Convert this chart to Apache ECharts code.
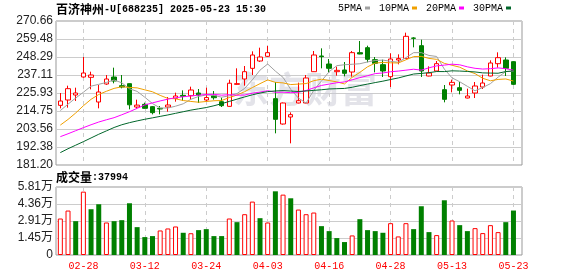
<!DOCTYPE html>
<html>
<head>
<meta charset="utf-8">
<title>百济神州-U K线</title>
<script src="https://cdn.jsdelivr.net/npm/echarts@6/dist/echarts.min.js"></script>
<style>
    html, body { margin: 0; padding: 0; background: #fff; }
    #kline { width: 578px; height: 276px; }
</style>
</head>
<body>
<div id="kline"></div>
<script>
// 行情数据
var stockName = '百济神州';
var stockCode = '-U[688235]';
var quoteTime = '2025-05-23 15:30';

var dates = ['02-25','02-26','02-27','02-28','03-03','03-04','03-05','03-06','03-07','03-10',
             '03-11','03-12','03-13','03-14','03-17','03-18','03-19','03-20','03-21','03-24',
             '03-25','03-26','03-27','03-28','03-31','04-01','04-02','04-03','04-07','04-08',
             '04-09','04-10','04-11','04-14','04-15','04-16','04-17','04-18','04-21','04-22',
             '04-23','04-24','04-25','04-28','04-29','04-30','05-06','05-07','05-08','05-09',
             '05-12','05-13','05-14','05-15','05-16','05-19','05-20','05-21','05-22','05-23'];
var tickDates = ['02-28','03-12','03-24','04-03','04-16','04-28','05-13','05-23'];

var openPrice = [218.26,221.58,224.68,235.87,235.66,220.33,231.52,235.87,230.48,231.73,
                 217.23,218.89,217.44,216.40,217.23,222.61,224.48,224.27,225.93,221.58,
                 224.20,220.54,217.64,231.31,234.62,241.25,245.81,248.71,222.41,206.67,
                 211.02,219.72,219.72,239.18,248.92,243.94,239.18,240.22,238.97,250.99,
                 254.09,246.64,243.53,236.08,246.43,247.46,260.10,255.33,236.49,239.60,
                 228.00,230.90,229.24,222.82,225.93,229.65,236.49,244.15,246.43,245.40];
var closePrice = [220.96,228.62,225.93,238.35,237.11,226.55,234.62,233.38,229.65,218.60,
                  218.40,216.40,213.71,215.99,218.47,224.06,223.85,227.79,224.68,223.10,
                  223.00,218.06,232.00,231.73,239.18,249.54,248.29,250.99,209.57,219.72,
                  212.47,221.16,235.25,249.54,248.50,241.25,240.01,238.15,250.99,250.16,
                  246.84,244.36,239.60,247.05,247.30,261.13,259.90,239.60,238.35,244.15,
                  221.99,232.55,227.58,224.06,230.28,232.14,244.57,247.88,241.25,231.31];
var lowPrice = [216.40,216.82,220.96,235.50,228.20,216.40,231.00,231.93,228.83,215.78,
                215.99,216.20,212.67,212.67,214.33,220.54,220.96,221.79,219.72,220.54,
                221.79,217.23,217.40,231.00,230.48,237.11,245.19,248.29,200.87,206.30,
                194.66,219.50,219.50,239.00,241.25,238.77,236.70,236.28,236.08,250.00,
                244.98,238.77,235.87,229.65,243.74,247.20,254.30,235.87,236.30,239.40,
                220.13,226.34,225.10,222.60,222.82,228.41,236.30,241.67,236.49,230.90];
var highPrice = [225.93,230.48,229.24,248.29,239.18,230.90,237.11,241.67,237.11,231.90,
                 221.79,219.92,217.85,217.85,223.44,226.14,227.58,229.86,228.41,229.24,
                 227.17,223.03,234.21,241.25,242.70,251.81,254.09,255.13,232.76,220.00,
                 213.92,232.35,237.11,252.02,253.68,247.05,242.29,245.19,252.02,258.23,
                 255.33,248.29,246.64,250.57,249.95,263.41,260.60,259.06,242.49,245.81,
                 230.90,234.21,232.76,228.62,232.76,237.32,246.22,251.19,248.09,245.60];

var volume = [31174,37976,28907,54129,39109,43360,27773,28907,29757,44210,
              23806,15304,16154,20972,22672,24372,18988,18600,21255,22105,
              16154,16154,31174,28057,34858,45627,31457,27773,54413,51579,
              48461,38826,34858,36275,24656,20405,14453,11053,16721,30607,
              21255,20405,18988,27206,15870,27206,22105,41660,19555,17004,
              46761,29474,25506,20405,22955,18704,25506,19555,28057,37994];

var ma5 = [215.0,219.0,222.8,226.4,230.19,231.31,232.51,234.00,232.26,228.56,
           226.93,223.29,219.35,216.62,216.59,217.73,219.22,222.03,223.77,224.70,
           224.48,223.33,224.17,225.58,228.79,234.10,240.15,243.95,239.51,235.62,
           228.21,222.78,219.63,227.63,233.38,239.14,242.91,243.49,243.78,244.11,
           245.23,246.10,246.39,245.60,245.03,247.89,251.00,251.00,249.26,248.63,
           240.80,235.33,232.92,230.07,227.29,229.32,231.73,235.79,239.22,239.43];
var ma10 = [206.0,209.5,213.5,218.0,222.0,225.0,227.0,228.8,229.8,229.38,
            229.12,227.90,226.68,224.44,222.58,222.33,221.25,220.69,220.20,220.65,
            221.11,221.27,223.10,224.67,226.75,229.29,231.74,234.06,232.55,232.21,
            231.16,231.47,231.79,233.57,234.50,233.67,232.85,231.56,235.70,238.75,
            242.19,244.51,244.94,244.69,244.57,246.56,248.55,248.69,247.43,246.83,
            244.34,243.16,241.96,239.66,237.96,235.06,233.53,234.36,234.65,233.36];
var ma20 = [198.8,200.6,202.5,204.4,206.2,207.9,209.3,210.6,212.4,214.3,
            216.4,218.5,219.8,221.0,222.1,223.0,223.6,224.1,224.6,225.01,
            225.11,224.59,224.89,224.56,224.66,225.81,226.49,227.37,226.37,226.43,
            226.13,226.37,227.45,229.12,230.62,231.48,232.29,232.81,234.13,235.48,
            236.67,237.99,238.37,239.13,239.54,240.12,240.70,240.13,241.57,242.79,
            243.26,243.83,243.45,242.18,241.27,240.81,241.04,241.52,241.04,240.09];
var ma30 = [188.9,191.3,193.5,195.7,198.0,200.3,202.4,204.5,206.2,207.5,
            208.6,209.6,210.5,211.4,212.3,213.3,214.3,215.3,216.1,216.9,
            218.0,219.3,220.7,222.1,223.5,224.8,225.9,226.8,227.2,227.41,
            227.13,226.88,227.19,227.56,227.94,228.43,228.61,228.77,229.48,230.53,
            231.48,232.41,233.28,234.31,235.27,236.51,237.71,238.10,238.56,239.26,
            239.23,239.71,239.56,239.31,239.01,238.43,238.31,238.20,239.26,239.65];

var priceTicks = ['181.20','192.38','203.56','214.75','225.93','237.11','248.29','259.48','270.66'];
var volTicks = ['0','1.45万','2.91万','4.36万','5.81万'];
var volMax = 58100;

var MONO = '"Liberation Mono", "DejaVu Sans Mono", monospace';
var CJK = '"Noto Sans CJK SC", sans-serif';
var NUM = 'Arial, "Liberation Sans", "Noto Sans CJK SC", sans-serif';

/**
 * 渲染 K线 + 成交量
 */
function RenderKline() {
    var dom = document.getElementById('kline');
    var chart = echarts.init(dom);

    var showTick = function (idx, val) {
        return tickDates.indexOf(val) > -1;
    };

    var candles = dates.map(function (d, i) {
        return [openPrice[i], closePrice[i], lowPrice[i], highPrice[i]];
    });

    // 成交量颜色按涨跌 (收盘对比前收)
    var volData = volume.map(function (v, i) {
        var up = i === 0 || closePrice[i] >= closePrice[i - 1];
        return {
            value: v,
            itemStyle: up ? {color: '#fff', borderColor: '#f00', borderWidth: 1}
                          : {color: '#008000', borderColor: '#008000', borderWidth: 0}
        };
    });

    var maLine = function (name, data, color) {
        return {
            name: name, type: 'line', data: data,
            xAxisIndex: 1, yAxisIndex: 1,
            showSymbol: false, symbol: 'none',
            lineStyle: {width: 1, color: color},
            itemStyle: {color: color},
            emphasis: {disabled: true}
        };
    };

    var richText = {
        a: {fontFamily: CJK, fontSize: 12, color: '#000', lineHeight: 14, verticalAlign: 'middle'},
        b: {fontFamily: MONO, fontSize: 10, color: '#000', lineHeight: 14, verticalAlign: 'middle'}
    };

    var option = {
        animation: false,
        title: [{
            left: 56, top: 2, padding: 0,
            text: '{a|' + stockName + '}{b|' + stockCode + ' ' + quoteTime + '}',
            textStyle: {rich: richText}
        }, {
            left: 56, top: 170, padding: 0,
            text: '{a|成交量}{b|:' + volume[volume.length - 1] + '}',
            textStyle: {rich: richText}
        }],
        legend: {
            left: 338, top: 3, padding: 0,
            itemGap: 9, itemWidth: 5, itemHeight: 3,
            align: 'right', icon: 'rect',
            textStyle: {fontFamily: MONO, fontSize: 10, color: '#000', padding: [0, -2, 0, 0]},
            data: ['5PMA', '10PMA', '20PMA', '30PMA']
        },
        graphic: [{
            type: 'text', left: 233, top: 71, z: 1, silent: true,
            style: {text: '东方财富', fontFamily: CJK, fontSize: 36, fontWeight: 'bold', fill: 'rgba(200,200,212,0.5)'}
        }],
        grid: [
            {left: 56, top: 21, width: 466, height: 144, show: true, borderColor: '#999', borderWidth: 1},
            {left: 56.5, top: 21, width: 460.8, height: 144},
            {left: 56, top: 187, width: 466, height: 68, show: true, borderColor: '#999', borderWidth: 1},
            {left: 56.5, top: 187, width: 460.8, height: 68}
        ],
        xAxis: [
            {gridIndex: 0, type: 'value', min: 0, max: 1, show: false},
            {
                gridIndex: 1, type: 'category', data: dates, boundaryGap: true,
                axisLine: {show: false}, axisTick: {show: false}, axisLabel: {show: false},
                splitLine: {show: true, interval: showTick, alignWithLabel: true,
                            lineStyle: {color: '#ccc', type: [4, 4]}}
            },
            {gridIndex: 2, type: 'value', min: 0, max: 1, show: false},
            {
                gridIndex: 3, type: 'category', data: dates, boundaryGap: true,
                axisLine: {show: false}, axisTick: {show: false},
                axisLabel: {show: true, interval: showTick, color: '#f00', fontFamily: MONO, fontSize: 10, margin: 6},
                splitLine: {show: true, interval: showTick, alignWithLabel: true,
                            lineStyle: {color: '#ccc', type: [4, 4]}}
            }
        ],
        yAxis: [
            {
                gridIndex: 0, type: 'value', min: 0, max: priceTicks.length - 1, interval: 1,
                axisLine: {show: false}, axisTick: {show: false},
                axisLabel: {
                    margin: 3, color: '#222', fontFamily: NUM, fontSize: 12,
                    formatter: function (v) { return priceTicks[v]; }
                },
                splitLine: {lineStyle: {color: '#ccc'}}
            },
            {gridIndex: 1, type: 'value', min: Number(priceTicks[0]), max: Number(priceTicks[priceTicks.length - 1]), show: false},
            {
                gridIndex: 2, type: 'value', min: 0, max: volTicks.length - 1, interval: 1,
                axisLine: {show: false}, axisTick: {show: false},
                axisLabel: {
                    margin: 3, color: '#222', fontFamily: NUM, fontSize: 12,
                    formatter: function (v) { return volTicks[v]; }
                },
                splitLine: {lineStyle: {color: '#ccc'}}
            },
            {gridIndex: 3, type: 'value', min: 0, max: volMax, show: false}
        ],
        series: [
            {
                name: 'K', type: 'candlestick', data: candles,
                xAxisIndex: 1, yAxisIndex: 1, barWidth: 5,
                itemStyle: {color: '#fff', color0: '#008000', borderColor: '#f00', borderColor0: '#008000', borderWidth: 1}
            },
            maLine('5PMA', ma5, '#a0a0a0'),
            maLine('10PMA', ma10, '#f0a000'),
            maLine('20PMA', ma20, '#ff00ff'),
            maLine('30PMA', ma30, '#00662a'),
            {
                name: 'VOL', type: 'bar', data: volData,
                xAxisIndex: 3, yAxisIndex: 3, barWidth: 5
            }
        ]
    };

    chart.setOption(option);

    window.addEventListener('resize', function () {
        chart.resize();
    });
}

RenderKline();
</script>
</body>
</html>
